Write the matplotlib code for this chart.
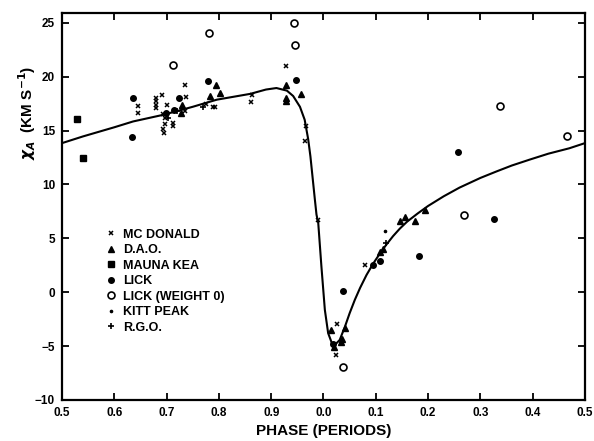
import matplotlib
matplotlib.use('Agg')
import matplotlib.pyplot as plt

# phase runs 0.5 -> 1.5 continuously, labelled 0.5..0.9,0.0..0.5
tick_pos = [0.5, 0.6, 0.7, 0.8, 0.9, 1.0, 1.1, 1.2, 1.3, 1.4, 1.5]
tick_labels = ['0.5', '0.6', '0.7', '0.8', '0.9', '0.0', '0.1', '0.2', '0.3', '0.4', '0.5']
ytick_pos = [-10, -5, 0, 5, 10, 15, 20, 25]

# fitted velocity curve
curve_phase = [0.50, 0.54, 0.60, 0.636, 0.694, 0.75, 0.796, 0.86, 0.89, 0.91, 0.93,
               0.942, 0.955, 0.964, 0.9707, 0.975, 0.9835, 0.9866, 0.990, 0.996,
               1.0026, 1.0089, 1.0185, 1.031, 1.041, 1.05, 1.06, 1.07, 1.0823,
               1.095, 1.108, 1.12, 1.133, 1.146, 1.16, 1.18, 1.20, 1.23, 1.26,
               1.30, 1.3307, 1.36, 1.3943, 1.43, 1.47, 1.50]
curve_vel = [13.83, 14.45, 15.3, 15.84, 16.46, 17.2, 17.86, 18.4, 18.8, 18.94, 18.7,
             18.2, 17.2, 16.0, 14.2, 12.6, 8.6, 7.2, 6.4, 2.4,
             -1.64, -3.8, -5.05, -4.43, -3.2, -1.95, -0.7, 0.4, 1.6,
             2.65, 3.6, 4.4, 5.2, 5.9, 6.55, 7.3, 8.0, 8.9, 9.7,
             10.6, 11.2, 11.75, 12.3, 12.85, 13.35, 13.83]

# McDonald
mcd_phase = [0.646, 0.646, 0.679, 0.679, 0.679, 0.679, 0.692, 0.701, 0.694, 0.697,
             0.693, 0.695, 0.697, 0.713, 0.713, 0.736, 0.738, 0.735, 0.776, 0.789,
             0.792, 0.864, 0.861, 0.928, 0.966, 0.964, 0.990, 1.023, 1.025, 1.080]
mcd_vel = [17.3, 16.65, 18.05, 17.7, 17.4, 17.1, 18.3, 17.4, 16.5, 16.2,
           15.1, 14.8, 15.6, 15.4, 15.7, 19.25, 18.1, 16.8, 17.45, 17.2,
           17.2, 18.3, 17.6, 20.98, 15.4, 14.05, 6.7, -5.8, -2.95, 2.55]

# D.A.O.
dao_phase = [0.729, 0.727, 0.783, 0.794, 0.802, 0.929, 0.929, 0.929, 0.957, 1.015,
             1.020, 1.033, 1.036, 1.041, 1.108, 1.113, 1.146, 1.156, 1.175, 1.194]
dao_vel = [17.4, 16.65, 18.2, 19.2, 18.5, 19.2, 18.0, 17.75, 18.4, -3.5,
           -5.1, -4.6, -4.35, -3.3, 3.77, 4.0, 6.65, 7.02, 6.56, 7.65]

# Mauna Kea
mk_phase = [0.529, 0.541]
mk_vel = [16.1, 12.45]

# Lick
lick_phase = [0.636, 0.634, 0.699, 0.715, 0.724, 0.780, 0.948, 1.019, 1.0376,
              1.094, 1.108, 1.183, 1.257, 1.3255]
lick_vel = [18.05, 14.42, 16.6, 16.9, 18.0, 19.6, 19.7, -4.8, 0.15,
            2.55, 2.85, 3.37, 13.05, 6.78]

# Lick (weight 0)
lick0_phase = [0.713, 0.781, 0.943, 0.945, 1.0364, 1.268, 1.338, 1.466]
lick0_vel = [21.1, 24.0, 25.0, 22.9, -6.9, 7.2, 17.23, 14.45]

# Kitt Peak
kp_phase = [1.118]
kp_vel = [5.72]

# R.G.O.
rgo_phase = [0.770, 0.719, 1.119, 0.703]
rgo_vel = [17.2, 16.8, 4.6, 16.2]

plt.rcParams['font.family'] = ['Liberation Sans', 'DejaVu Sans']
plt.rcParams['font.weight'] = 'bold'

fig = plt.figure(figsize=(5.94, 4.41), dpi=100)
ax = fig.add_axes([0.1044, 0.093, 0.8804, 0.8775])

ax.plot(curve_phase, curve_vel, color='black', lw=1.5, zorder=2)

ax.plot(mcd_phase, mcd_vel, ls='none', marker='x', ms=3.4, mew=1.1, color='black', label='MC DONALD')
ax.plot(dao_phase, dao_vel, ls='none', marker='^', ms=4.3, color='black', label='D.A.O.')
ax.plot(mk_phase, mk_vel, ls='none', marker='s', ms=4.6, color='black', label='MAUNA KEA')
ax.plot(lick_phase, lick_vel, ls='none', marker='o', ms=4.0, color='black', label='LICK')
ax.plot(lick0_phase, lick0_vel, ls='none', marker='o', ms=5.0, mfc='white', mec='black',
        mew=1.2, label='LICK (WEIGHT 0)')
ax.plot(kp_phase, kp_vel, ls='none', marker='o', ms=1.6, color='black', label='KITT PEAK')
ax.plot(rgo_phase, rgo_vel, ls='none', marker='+', ms=4.0, mew=1.2, color='black', label='R.G.O.')

ax.set_xlim(0.5, 1.5)
ax.set_ylim(-10, 25.9)
ax.set_xticks(tick_pos)
ax.set_xticklabels(tick_labels)
ax.set_yticks(ytick_pos)
ax.tick_params(direction='in', length=5, width=1.3, top=True, right=True,
               labelsize=8.5, pad=5)
for lab in ax.get_xticklabels() + ax.get_yticklabels():
    lab.set_fontweight('bold')
for sp in ax.spines.values():
    sp.set_linewidth(1.6)

ax.set_xlabel('PHASE (PERIODS)', fontsize=11, fontweight='bold', labelpad=4)
fig.text(0.045, 0.745, r'$\chi_A$  (KM S$^{-1}$)', rotation=90, fontsize=11,
         fontweight='bold', ha='center', va='center')

ax.legend(loc='upper left', bbox_to_anchor=(0.085, 0.443), frameon=False,
          handlelength=0.8, handletextpad=0.5, labelspacing=0.28,
          borderpad=0, borderaxespad=0, prop={'weight': 'bold', 'size': 9})

fig.savefig('out.png', dpi=100)
